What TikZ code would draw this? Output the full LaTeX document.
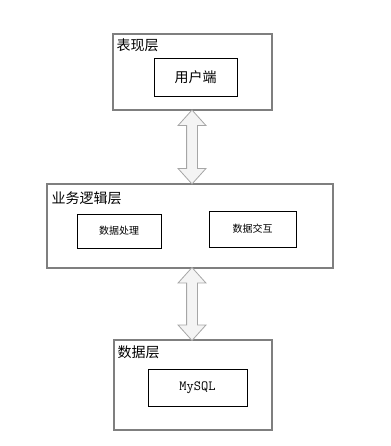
\documentclass[tikz,border=0pt]{standalone}
\usepackage{fontspec}
\newfontfamily\cjk{Noto Sans CJK SC}
\usepackage{tikz}
\usetikzlibrary{positioning,shapes.arrows}
\definecolor{layergray}{HTML}{7F7F7F}
\definecolor{arrowgray}{HTML}{A6A6A6}
\definecolor{arrowfill}{HTML}{F4F4F4}

\begin{document}
\begin{tikzpicture}[
    x=1pt, y=-1pt,
    layer/.style={rectangle, draw=layergray, line width=1.2pt,
                  minimum width=#1, inner sep=0pt},
    part/.style={rectangle, draw=black, line width=0.9pt,
                 inner sep=0pt, font=\cjk\fontsize{10}{12}\selectfont},
    title/.style={anchor=north west, inner sep=0pt,
                  font=\cjk\fontsize{14}{16}\selectfont},
    updown/.style={double arrow, draw=arrowgray, fill=arrowfill, line width=0.8pt,
                   shape border rotate=90, inner sep=5pt,
                   minimum width=27pt, minimum height=#1,
                   double arrow head extend=8.5pt, double arrow tip angle=84}
]
\useasboundingbox (0,0) rectangle (390,446);

% three layers
\node[layer=159pt, minimum height=76pt] (present) at (192.5,72) {};
\node[layer=286pt, minimum height=84pt] (logic) at (190,226) {};
\node[layer=158pt, minimum height=90pt] (store) at (193,385) {};

\node[title, below right=5pt and 4pt of present.north west] (presentname) {表现层};
\node[title, below right=8pt and 5pt of logic.north west] (logicname) {业务逻辑层};
\node[title, below right=6pt and 4pt of store.north west] (storename) {数据层};

% parts inside the layers
\node[part, minimum width=83pt, minimum height=38pt,
      font=\cjk\fontsize{14}{16}\selectfont] (client) at (195.5,77) {用户端};
\node[part, minimum width=84pt, minimum height=34pt] (proc) at (119,231) {数据处理};
\node[part, minimum width=87pt, minimum height=36pt] (inter) at (252.5,229) {数据交互};
\node[part, minimum width=99pt, minimum height=37pt,
      font=\ttfamily\fontsize{14}{16}\selectfont] (mysql) at (197.5,387.5) {MySQL};

% arrows between layers
\path (present.south -| 192,0) -- node[updown=74pt] (arrowtop) {} (logic.north -| 192,0);
\path (logic.south -| 192,0) -- node[updown=73pt] (arrowbottom) {} (store.north -| 192,0);
\end{tikzpicture}
\end{document}
